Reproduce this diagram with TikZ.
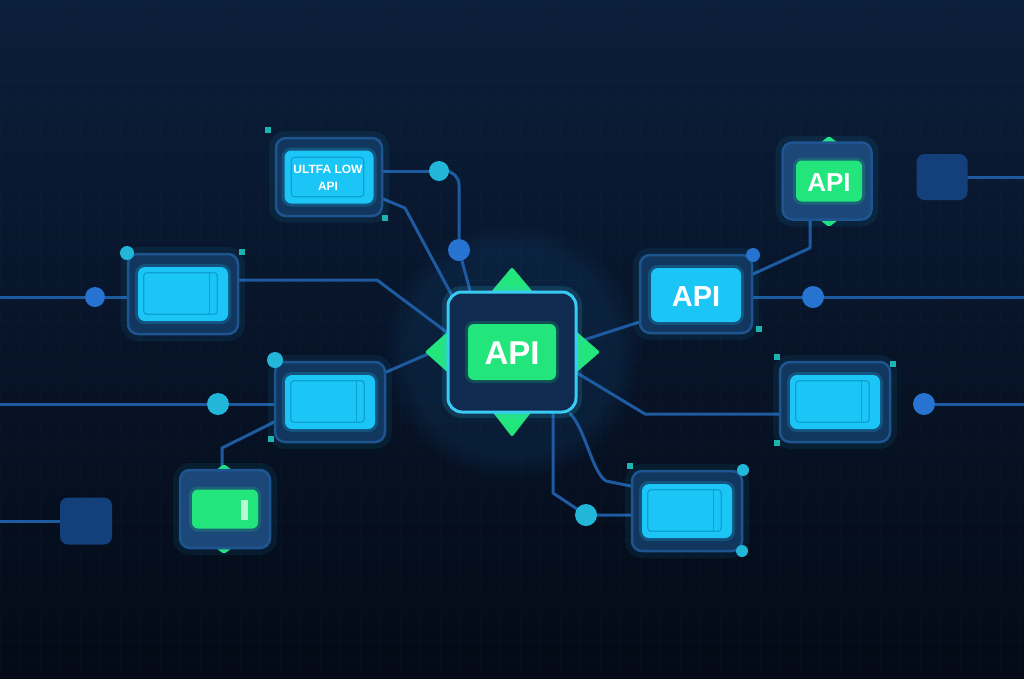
\documentclass[tikz,border=0pt]{standalone}
\usepackage{fontspec}
\setmainfont{Liberation Sans}
\usetikzlibrary{calc,fadings}
\definecolor{bgtop}{HTML}{0B1E3A}
\definecolor{bgbot}{HTML}{040A16}
\definecolor{gridc}{HTML}{2A5A90}
\definecolor{linec}{HTML}{1D5AA0}
\definecolor{boxfill}{HTML}{12375F}
\definecolor{gboxfill}{HTML}{1B4878}
\definecolor{boxedge}{HTML}{1E5490}
\definecolor{cyanc}{HTML}{1BC6F6}
\definecolor{cyanline}{HTML}{0E9FD6}
\definecolor{greenc}{HTML}{22E57C}
\definecolor{paleg}{HTML}{B9F7CF}
\definecolor{cyandot}{HTML}{22B6D8}
\definecolor{bluedot}{HTML}{2673D2}
\definecolor{sqc}{HTML}{1DB3B0}
\definecolor{darksq}{HTML}{133F7A}
\definecolor{cedge}{HTML}{3ACBF5}
\definecolor{cfill}{HTML}{0F2C50}
\definecolor{glowb}{HTML}{1E78C8}
\pgfdeclarelayer{back}\pgfdeclarelayer{wires}\pgfsetlayers{back,wires,main}
\tikzset{
 wire/.style={draw=linec, line width=3pt, line cap=round, line join=round},
 outerbox/.style={draw=boxedge, line width=2.5pt, fill=boxfill, rounded corners=10pt, inner sep=0pt, minimum width=110pt, minimum height=80pt, preaction={draw=cyanc, line width=14pt, draw opacity=0.08}},
 cyanbox/.style={fill=cyanc, rounded corners=7pt, inner sep=0pt, minimum width=90pt, minimum height=54pt, preaction={draw=cyanc, line width=6pt, draw opacity=0.2}},
 innerline/.style={draw=cyanline, line width=1.2pt, rounded corners=3pt},
 greenbox/.style={fill=greenc, rounded corners=6pt, inner sep=0pt, preaction={draw=greenc, line width=6pt, draw opacity=0.18}},
 dotc/.style={circle, fill=cyandot, inner sep=0pt, minimum size=#1},
 dotb/.style={circle, fill=bluedot, inner sep=0pt, minimum size=#1},
 sqmark/.style={fill=sqc, inner sep=0pt, minimum size=6pt},
 darkbox/.style={fill=darksq, rounded corners=8pt, inner sep=0pt, minimum width=52pt, minimum height=47pt},
 apitext/.style={text=white, inner sep=0pt, font=\bfseries\fontsize{#1}{#1}\selectfont},
 tipshape/.style={fill=greenc, rounded corners=2pt},
}
\newcommand{\blankunit}[2]{%
  \node[outerbox] (#1) at (#2) {};
  \node[cyanbox] (#1i) at (#2) {};
  \draw[innerline] ($(#1i.north west)+(6,6)$) rectangle ($(#1i.south east)+(-11,-7)$);
  \draw[innerline] ($(#1i.north east)+(-19,6)$) -- ($(#1i.south east)+(-19,-7)$);
}
\begin{document}
\begin{tikzpicture}[x=1pt,y=-1pt]
\useasboundingbox (0,0) rectangle (1024,678);
\begin{pgfonlayer}{back}
\shade[top color=bgtop, bottom color=bgbot] (0,0) rectangle (1024,678);
\foreach \g in {0,20,...,1020} \draw[gridc, line width=0.4pt, draw opacity=0.05] (\g,0) -- (\g,678);
\foreach \g in {0,20,...,670} \draw[gridc, line width=0.4pt, draw opacity=0.05] (0,\g) -- (1024,\g);
\fill[glowb, path fading=circle with fuzzy edge 20 percent, fill opacity=0.12] (512,352) circle (130pt);
\end{pgfonlayer}

% central node
\fill[tipshape] (486,298) -- (512,267) -- (538,298) -- cycle;
\fill[tipshape] (454,326) -- (425,352) -- (454,378) -- cycle;
\fill[tipshape] (570,326) -- (600,352) -- (570,378) -- cycle;
\fill[tipshape] (488,406) -- (512,437) -- (536,406) -- cycle;
\node[draw=cedge, line width=3pt, fill=cfill, rounded corners=14pt, minimum width=128pt, minimum height=120pt, inner sep=0pt, preaction={draw=cedge, line width=12pt, draw opacity=0.15}] (C) at (512,352) {};
\node[greenbox, minimum width=88pt, minimum height=56pt] (Ci) at (512,352) {};
\node[apitext=33] (Ct) at (512,353) {API};

% top-left ULTFA LOW API
\node[outerbox, minimum width=106pt, minimum height=78pt] (ul) at (329,177) {};
\node[cyanbox, minimum width=89pt, minimum height=53pt] (uli) at (329,177) {};
\draw[innerline] ($(uli.north west)+(7,7)$) rectangle ($(uli.south east)+(-10,-7)$);
\node[text=white, align=center, font=\bfseries\fontsize{12}{17}\selectfont] (ult) at (328,178) {ULTFA LOW\\API};

% blank units
\blankunit{L1}{183,294}
\blankunit{L2}{330,402}
\blankunit{R2}{835,402}
\blankunit{B}{687,511}

% green unit bottom-left
\fill[tipshape] (216,470) -- (224,464) -- (232,470) -- cycle;
\fill[tipshape] (216,548) -- (224,554) -- (232,548) -- cycle;
\node[outerbox, fill=gboxfill, minimum width=90pt, minimum height=78pt] (G) at (225,509) {};
\node[greenbox, minimum width=66pt, minimum height=39pt] (Gi) at (225,509) {};
\node[fill=paleg, inner sep=0pt, minimum width=7pt, minimum height=20pt] (Gb) at (244,510) {};

% top-right green API
\fill[tipshape] (820,143) -- (829,136) -- (838,143) -- cycle;
\fill[tipshape] (820,220) -- (829,227) -- (838,220) -- cycle;
\node[outerbox, fill=gboxfill, minimum width=89pt, minimum height=77pt] (TR) at (827,181) {};
\node[greenbox, minimum width=66pt, minimum height=41pt] (TRi) at (829,181) {};
\node[apitext=26] (TRt) at (829,183) {API};

% right API
\node[outerbox, minimum width=112pt, minimum height=78pt] (RA) at (696,294) {};
\node[cyanbox, minimum width=90pt, minimum height=54pt] (RAi) at (696,295) {};
\node[apitext=29] (RAt) at (696,297) {API};

% dark squares
\node[darkbox] (D1) at (86,521) {};
\node[darkbox, minimum width=51pt, minimum height=46pt] (D2) at (942,177) {};

% dots
\node[dotc=20pt] (d1) at (439,171) {};
\node[dotb=22pt] (d2) at (459,250) {};
\node[dotc=14pt] (d3) at (127,253) {};
\node[dotb=20pt] (d4) at (95,297) {};
\node[dotc=16pt] (d5) at (275,360) {};
\node[dotc=22pt] (d6) at (218,404) {};
\node[dotb=14pt] (d7) at (753,255) {};
\node[dotb=22pt] (d8) at (813,297) {};
\node[dotb=22pt] (d9) at (924,404) {};
\node[dotc=12pt] (d10) at (743,470) {};
\node[dotc=12pt] (d11) at (742,551) {};
\node[dotc=22pt] (d12) at (586,515) {};

% small squares
\node[sqmark] (s1) at (268,130) {};
\node[sqmark] (s2) at (385,218) {};
\node[sqmark] (s3) at (242,252) {};
\node[sqmark] (s4) at (271,439) {};
\node[sqmark] (s5) at (759,329) {};
\node[sqmark] (s6) at (777,357) {};
\node[sqmark] (s7) at (893,364) {};
\node[sqmark] (s8) at (777,443) {};
\node[sqmark] (s9) at (630,466) {};

% free ends
\coordinate (eL1) at (0,297);
\coordinate (eL2) at (0,404);
\coordinate (eD1) at (0,521);
\coordinate (eR1) at (1024,297);
\coordinate (eD2) at (1024,177);
\coordinate (eR2) at (1024,404);
\coordinate (k1) at (405,208);
\coordinate (k2) at (377,280);
\coordinate (k3) at (222,448);
\coordinate (k4) at (810,248);
\coordinate (k5) at (645,414);
\coordinate (k6) at (553,493);

\begin{pgfonlayer}{wires}
\draw[wire] (ul.east |- d1) -- (d1);
\draw[wire, rounded corners=14pt] (d1) -| (d2);
\draw[wire] (d2) -- ($(C.north)+(-42,0)$);
\draw[wire] ($(ul.east)+(0,22)$) -- (k1) -- ($(C.north west)+(6,6)$);
\draw[wire] (eL1) -- (d4) -- (d4 -| L1.west);
\draw[wire] ($(L1.east)+(0,-14)$) -- (k2) -- ($(C.west)+(0,-20)$);
\draw[wire] (eL2) -- (d6) -- (d6 -| L2.west);
\draw[wire] ($(L2.east)+(0,-30)$) -- ($(C.west)+(0,-6)$);
\draw[wire] ($(L2.south west)+(2,-22)$) -- (k3) -- (G.north -| k3);
\draw[wire] (eD1) -- (eD1 -| D1.west);
\draw[wire] (RA.east |- d8) -- (d8) -- (eR1);
\draw[wire] ($(RA.south west)+(0,-12)$) -- ($(C.east)+(0,-10)$);
\draw[wire] ($(RA.east)+(0,-20)$) -- (k4) -- (TR.south -| k4);
\draw[wire] (D2.east |- eD2) -- (eD2);
\draw[wire] ($(C.east)+(-2,20)$) -- (k5) -- (k5 -| R2.west);
\draw[wire] (d9) -- (eR2);
\draw[wire] ($(C.south)+(41,0)$) -- (k6) -- (d12) -- (d12 -| B.west);
\draw[wire] ($(C.south)+(58,0)$) .. controls (585,428) and (592,472) .. (606,481) -- ($(B.west)+(0,-25)$);
\end{pgfonlayer}
\end{tikzpicture}
\end{document}
